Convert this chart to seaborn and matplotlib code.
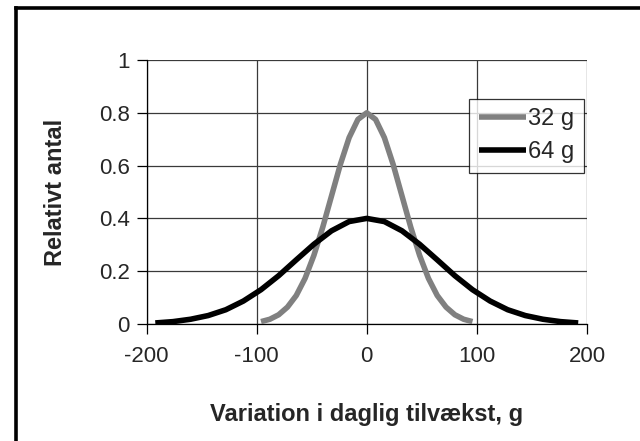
import matplotlib
matplotlib.use("Agg")
import matplotlib.pyplot as plt
import seaborn as sns
import pandas as pd
from matplotlib.lines import Line2D

sns.set_theme(style="white")
plt.rcParams['font.family'] = ['Liberation Sans', 'DejaVu Sans']

# Data
x_32 = [-96, -88, -80, -72, -64, -56, -48, -40, -32, -24, -16, -8, 0,
        8, 16, 24, 32, 40, 48, 56, 64, 72, 80, 88, 96]
y_32 = [0.009, 0.018, 0.035, 0.064, 0.108, 0.173, 0.260, 0.366, 0.485, 0.604, 0.706, 0.775, 0.800,
        0.775, 0.706, 0.604, 0.485, 0.366, 0.260, 0.173, 0.108, 0.064, 0.035, 0.018, 0.009]
x_64 = [-192, -176, -160, -144, -128, -112, -96, -80, -64, -48, -32, -16, 0,
        16, 32, 48, 64, 80, 96, 112, 128, 144, 160, 176, 192]
y_64 = [0.004, 0.009, 0.018, 0.032, 0.054, 0.087, 0.130, 0.183, 0.243, 0.302, 0.353, 0.388, 0.400,
        0.388, 0.353, 0.302, 0.243, 0.183, 0.130, 0.087, 0.054, 0.032, 0.018, 0.009, 0.004]
series_names = ["32 g", "64 g"]
x_ticks = [-200, -100, 0, 100, 200]
y_ticks = [0, 0.2, 0.4, 0.6, 0.8, 1]
x_label = "Variation i daglig tilvækst, g"
y_label = "Relativt antal"

df = pd.concat([
    pd.DataFrame({"x": x_32, "y": y_32, "serie": series_names[0]}),
    pd.DataFrame({"x": x_64, "y": y_64, "serie": series_names[1]}),
], ignore_index=True)

W, H = 640, 441
fig = plt.figure(figsize=(W / 100, H / 100), dpi=100)
ax = fig.add_axes([146.5 / W, 1 - 324 / H, (587 - 146.5) / W, (324 - 60) / H])

sns.lineplot(data=df, x="x", y="y", hue="serie", palette=["#808080", "#000000"],
             linewidth=4.0, sort=False, ax=ax, zorder=3)
for ln in ax.get_lines():
    ln.set_solid_capstyle("butt")
    ln.set_solid_joinstyle("round")

ax.set_xlim(-200, 200)
ax.set_ylim(0, 1)
ax.set_xticks(x_ticks)
ax.set_yticks(y_ticks)
ax.set_xticklabels([str(v) for v in x_ticks])
ax.set_yticklabels(["0", "0.2", "0.4", "0.6", "0.8", "1"])
ax.grid(True, color="#3a3a3a", linewidth=0.9, zorder=0)
ax.set_axisbelow(True)
for s in ["top", "right"]:
    ax.spines[s].set_visible(False)
for s in ["left", "bottom"]:
    ax.spines[s].set_color("#000000")
    ax.spines[s].set_linewidth(0.9)
ax.tick_params(axis="both", which="both", direction="out", length=7, width=0.9,
               color="#000000", labelsize=16, bottom=True, left=True)
ax.tick_params(axis="x", pad=9)
ax.tick_params(axis="y", pad=5)
ax.set_xlabel(x_label, fontsize=17, fontweight="bold", labelpad=26)
ax.set_ylabel(y_label, fontsize=17, fontweight="bold", labelpad=23)

leg = ax.legend(loc="upper right", bbox_to_anchor=(584 / W, 1 - 99 / H),
                bbox_transform=fig.transFigure, borderaxespad=0,
                frameon=True, fancybox=False, fontsize=17, handlelength=2.0,
                handletextpad=0.1, borderpad=0.4, labelspacing=0.45)
leg.get_frame().set_edgecolor("#000000")
leg.get_frame().set_linewidth(0.9)
leg.set_title(None)

# outer thick frame (top and left)
fig.add_artist(Line2D([15.5 / W, 15.5 / W], [0, 1 - 7.5 / H], transform=fig.transFigure,
                      color="black", linewidth=2.6, solid_capstyle="projecting"))
fig.add_artist(Line2D([15.5 / W, 1], [1 - 7.5 / H, 1 - 7.5 / H], transform=fig.transFigure,
                      color="black", linewidth=2.6, solid_capstyle="projecting"))

fig.savefig("out.png", dpi=100, facecolor="white")
